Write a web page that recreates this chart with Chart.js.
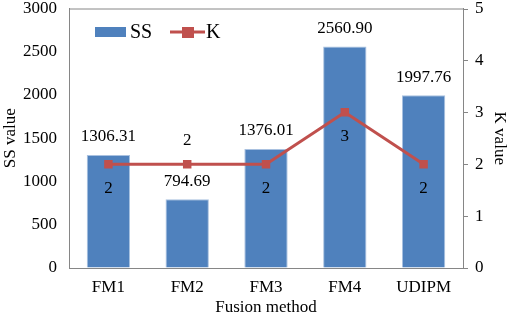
<!DOCTYPE html>
<html><head><meta charset="utf-8">
<script src="https://cdn.jsdelivr.net/npm/chart.js@4.4.1/dist/chart.umd.min.js"></script>
<style>html,body{margin:0;padding:0;background:#fff}#wrap{width:510px;height:318px}</style>
</head><body><div id="wrap"><canvas id="c" width="510" height="318"></canvas></div>
<script>
const categories = ["FM1", "FM2", "FM3", "FM4", "UDIPM"];
const ssValues = [1306.31, 794.69, 1376.01, 2560.90, 1997.76];
const kValues = [2, 2, 2, 3, 2];
const ssTicks = [0, 500, 1000, 1500, 2000, 2500, 3000];
const kTicks = [0, 1, 2, 3, 4, 5];

const FONT = "'Liberation Serif', 'Times New Roman', serif";
const BLUE = "#4F81BD", RED = "#C0504D", AXIS = "#868686";

const labelPlugin = {
  id: "labels",
  afterDatasetsDraw(chart) {
    const ctx = chart.ctx;
    ctx.save();
    ctx.font = "17px " + FONT;
    ctx.fillStyle = "#000";
    ctx.textAlign = "center";
    ctx.textBaseline = "middle";
    const barMeta = chart.getDatasetMeta(0);
    barMeta.data.forEach((el, i) => {
      ctx.fillText(ssValues[i].toFixed(2), el.x, el.y - 18);
    });
    const lineMeta = chart.getDatasetMeta(1);
    lineMeta.data.forEach((el, i) => {
      const above = (i === 1);
      ctx.fillText(String(kValues[i]), el.x, above ? el.y - 24 : el.y + 24);
    });
    const a = chart.chartArea;
    ctx.strokeStyle = AXIS; ctx.lineWidth = 1;
    ctx.beginPath(); ctx.moveTo(a.left, a.top + 0.5); ctx.lineTo(a.right, a.top + 0.5); ctx.stroke();
    // right axis tick marks
    const r = chart.scales.y1;
    ctx.beginPath();
    kTicks.forEach(v => {
      const yy = Math.round(r.getPixelForValue(v)) + 0.5;
      ctx.moveTo(a.right, yy); ctx.lineTo(a.right + 5, yy);
    });
    ctx.stroke();
    // legend
    ctx.fillStyle = BLUE;
    ctx.fillRect(a.left + 26, 27, 31, 10);
    ctx.fillStyle = "#000";
    ctx.textAlign = "left";
    ctx.font = "20px " + FONT;
    ctx.fillText("SS", a.left + 61, 33);
    ctx.strokeStyle = RED; ctx.lineWidth = 3;
    ctx.beginPath(); ctx.moveTo(a.left + 101, 32); ctx.lineTo(a.left + 136, 32); ctx.stroke();
    ctx.fillStyle = RED;
    ctx.fillRect(a.left + 113, 27, 12, 11);
    ctx.fillStyle = "#000";
    ctx.fillText("K", a.left + 137, 33);
    ctx.restore();
  }
};

const tickFont = { family: FONT, size: 17, lineHeight: 1 };

new Chart(document.getElementById("c"), {
  data: {
    labels: categories,
    datasets: [
      { type: "bar", label: "SS", data: ssValues, yAxisID: "y", order: 1,
        backgroundColor: BLUE, borderColor: "#A9C1E0", borderWidth: 1,
        categoryPercentage: 1, barPercentage: 0.55 },
      { type: "line", label: "K", data: kValues, yAxisID: "y1", order: 0,
        borderColor: RED, backgroundColor: RED, borderWidth: 3,
        pointStyle: "rect", pointRadius: 6, pointBorderWidth: 0, pointBackgroundColor: RED, tension: 0 }
    ]
  },
  options: {
    responsive: false, animation: false, devicePixelRatio: 1,
    layout: { padding: { top: 0, left: 0, right: 0, bottom: 0 } },
    plugins: { legend: { display: false }, tooltip: { enabled: false } },
    scales: {
      x: {
        offset: true,
        grid: { display: false, drawTicks: false },
        border: { display: true, color: AXIS, width: 1 },
        ticks: { color: "#000", font: tickFont, padding: 11 },
        title: { display: true, text: "Fusion method", color: "#000", font: { family: FONT, size: 17 }, padding: { top: 0, bottom: 0 } },
        afterFit: s => { s.height = 50; }
      },
      y: {
        position: "left", min: 0, max: 3000,
        afterBuildTicks: s => { s.ticks = ssTicks.map(v => ({ value: v })); },
        grid: { drawOnChartArea: false, drawTicks: true, tickLength: 12, color: "rgba(0,0,0,0)" },
        border: { display: true, color: AXIS, width: 1 },
        ticks: { color: "#000", font: tickFont, padding: 0, callback: v => String(v) },
        title: { display: true, text: "SS value", color: "#000", font: { family: FONT, size: 17 }, padding: { top: 0, bottom: 0 } },
        afterFit: s => { s.width = 69; }
      },
      y1: {
        position: "right", min: 0, max: 5,
        afterBuildTicks: s => { s.ticks = kTicks.map(v => ({ value: v })); },
        grid: { drawOnChartArea: false, drawTicks: true, tickLength: 12, color: "rgba(0,0,0,0)" },
        border: { display: true, color: AXIS, width: 1 },
        ticks: { color: "#000", font: tickFont, padding: 0, callback: v => String(v) },
        title: { display: true, text: "K value", color: "#000", font: { family: FONT, size: 17 }, padding: { top: 0, bottom: 0 } },
        afterFit: s => { s.width = 47; }
      }
    }
  },
  plugins: [labelPlugin]
});
</script>
</body></html>
